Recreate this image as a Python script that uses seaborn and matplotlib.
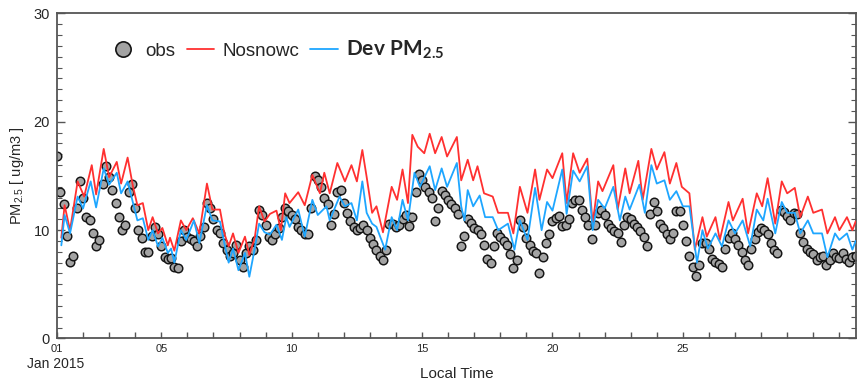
import numpy as np
import pandas as pd
import matplotlib
matplotlib.use("Agg")
import matplotlib.pyplot as plt
import matplotlib.dates as mdates
from matplotlib.ticker import MultipleLocator, FuncFormatter
from matplotlib.lines import Line2D
import seaborn as sns

# ---------------- data ----------------
start = pd.Timestamp("2015-01-01 00:00")

# observations, every 3 hours from Jan 1 00:00 local time
obs_values = [
    16.8, 13.5, 12.4, 9.5, 7.1, 7.6, 12.0, 14.5,
    13.0, 11.2, 10.9, 9.7, 8.5, 9.1, 14.3, 15.9,
    14.9, 13.7, 12.5, 11.2, 10.0, 10.5, 13.5, 14.3,
    12.0, 10.0, 9.3, 8.0, 8.0, 9.5, 10.3, 9.6,
    8.5, 7.5, 7.3, 7.4, 6.6, 6.5, 9.0, 10.0,
    9.4, 9.2, 9.0, 8.5, 9.5, 10.3, 12.5, 12.0,
    11.0, 10.0, 9.7, 8.8, 8.2, 7.6, 7.9, 8.6,
    7.2, 6.6, 7.9, 8.5, 8.2, 9.1, 11.9, 11.4,
    10.5, 9.4, 9.1, 9.6, 10.2, 11.2, 12.0, 11.8,
    11.4, 11.0, 10.3, 10.0, 9.6, 9.6, 12.0, 15.0,
    14.6, 14.0, 13.0, 12.4, 10.5, 11.5, 13.5, 13.7,
    12.5, 11.6, 10.8, 10.3, 10.0, 10.2, 10.5, 10.0,
    9.3, 8.7, 8.2, 7.6, 7.2, 8.2, 10.6, 10.6,
    10.3, 10.5, 11.0, 11.4, 10.4, 11.2, 13.5, 15.2,
    14.6, 14.0, 13.5, 13.0, 10.8, 12.0, 13.6, 13.2,
    12.8, 12.4, 12.0, 11.5, 8.5, 9.5, 11.0, 10.7,
    10.2, 10.0, 9.6, 8.6, 7.3, 7.0, 8.5, 9.7,
    9.4, 9.0, 8.6, 7.8, 6.5, 7.2, 10.9, 10.3,
    9.3, 8.6, 8.1, 7.9, 6.0, 7.5, 8.8, 9.6,
    10.8, 11.1, 11.3, 10.4, 10.5, 11.0, 12.5, 12.8,
    12.8, 11.9, 11.2, 10.5, 9.2, 10.5, 11.6, 11.9,
    11.4, 10.6, 10.2, 9.9, 9.7, 8.9, 10.5, 11.2,
    11.0, 10.6, 10.3, 9.9, 9.4, 8.5, 11.5, 12.6,
    11.8, 10.6, 10.2, 9.6, 9.2, 9.7, 11.8, 11.8,
    10.5, 9.0, 7.6, 6.6, 5.8, 6.8, 8.8, 8.8,
    8.3, 7.3, 7.1, 6.9, 6.6, 8.3, 9.3, 9.7,
    9.2, 8.6, 8.0, 7.2, 6.8, 8.3, 9.2, 9.8,
    10.2, 10.0, 9.6, 8.8, 8.2, 7.9, 11.9, 11.7,
    11.3, 10.9, 11.6, 11.5, 9.7, 8.9, 8.3, 8.0,
    7.8, 7.2, 7.5, 7.6, 6.8, 7.2, 7.9, 7.5,
    7.4, 7.9, 7.3, 7.1, 7.5, 7.6,
]
obs_hours = np.arange(len(obs_values)) * 3

# Nosnowc model run: hours since Jan 1 00:00 and values
red_hours = [4, 7, 12, 19, 25, 32, 36, 43, 48, 55,
             59, 65, 70, 74, 79, 84, 88, 93, 97, 102,
             104, 108, 114, 119, 125, 131, 138, 143, 150, 154,
             158, 162, 167, 173, 177, 182, 186, 191, 196, 202,
             206, 210, 214, 222, 228, 235, 242, 246, 251, 258,
             265, 271, 276, 281, 285, 290, 294, 300, 308, 313,
             318, 323, 327, 332, 338, 343, 348, 354, 359, 368,
             372, 378, 383, 387, 393, 401, 406, 415, 420, 426,
             433, 440, 444, 451, 456, 465, 469, 475, 481, 488,
             493, 498, 502, 512, 516, 523, 527, 535, 539, 547,
             552, 559, 564, 570, 575, 582, 587, 594, 598, 606,
             610, 618, 622, 631, 636, 644, 649, 654, 661, 667,
             672, 679, 684, 691, 696, 704, 709, 716, 720, 727,
             732, 735]
red_values = [9.3, 12.3, 10.0, 14.5, 13.1, 16.0, 13.3, 17.5, 14.9, 16.3,
              14.3, 16.7, 14.0, 12.3, 12.5, 10.0, 11.2, 9.7, 10.2, 8.6,
              9.3, 8.1, 10.9, 10.0, 11.1, 9.7, 14.3, 11.9, 11.9, 9.7,
              8.5, 9.7, 7.9, 9.4, 7.7, 9.3, 12.2, 10.8, 11.5, 11.8,
              10.0, 13.4, 12.5, 13.5, 12.3, 15.1, 13.4, 15.3, 13.4, 16.2,
              14.5, 16.0, 14.5, 17.4, 14.9, 11.6, 12.2, 9.8, 14.0, 12.8,
              15.6, 12.5, 18.8, 17.7, 17.1, 18.9, 17.1, 18.6, 16.8, 18.6,
              14.6, 16.5, 14.6, 15.9, 13.4, 13.1, 11.6, 11.6, 9.7, 14.0,
              11.6, 15.6, 12.8, 15.6, 14.8, 17.1, 12.5, 17.1, 15.3, 16.6,
              10.6, 14.5, 13.6, 16.0, 11.9, 15.7, 13.4, 16.4, 12.8, 17.5,
              15.6, 17.2, 14.3, 16.2, 14.0, 13.4, 8.2, 11.2, 9.4, 11.2,
              9.1, 12.6, 10.9, 12.9, 9.7, 13.4, 12.2, 14.8, 10.6, 14.5,
              13.4, 13.9, 11.2, 13.1, 11.6, 11.9, 9.7, 11.2, 10.0, 11.2,
              10.0, 10.8]

# Dev PM2.5 model run
blue_hours = [4, 7, 12, 19, 24, 31, 36, 43, 48, 55,
              59, 65, 70, 74, 79, 84, 88, 93, 97, 102,
              105, 108, 114, 119, 126, 131, 138, 143, 150, 154,
              158, 162, 167, 173, 177, 182, 186, 191, 196, 202,
              207, 211, 214, 222, 228, 235, 240, 248, 251, 260,
              265, 271, 276, 281, 285, 290, 294, 302, 308, 313,
              318, 323, 329, 334, 343, 348, 354, 359, 368, 372,
              375, 378, 383, 389, 394, 401, 406, 415, 421, 426,
              433, 440, 446, 451, 456, 465, 469, 475, 481, 488,
              493, 498, 504, 512, 518, 523, 527, 536, 541, 547,
              552, 559, 564, 570, 576, 582, 589, 594, 599, 606,
              612, 618, 624, 631, 638, 644, 650, 654, 661, 667,
              672, 679, 684, 691, 696, 704, 709, 716, 720, 727,
              732, 735]
blue_values = [8.6, 11.4, 9.7, 13.1, 12.0, 14.5, 12.1, 15.7, 14.2, 15.3,
               13.4, 14.5, 12.5, 10.9, 11.1, 9.1, 10.0, 8.5, 9.3, 7.9,
               8.3, 7.0, 10.0, 9.1, 10.9, 8.8, 12.3, 10.9, 10.8, 8.8,
               7.0, 8.3, 6.3, 7.9, 5.7, 8.3, 10.6, 9.8, 9.6, 10.5,
               9.1, 11.2, 10.3, 11.9, 9.4, 12.8, 11.4, 12.2, 10.9, 13.1,
               12.2, 12.5, 10.9, 14.5, 11.6, 10.6, 10.3, 8.2, 11.2, 10.0,
               12.8, 10.9, 15.3, 14.0, 15.9, 13.7, 15.7, 14.0, 16.2, 12.2,
               10.9, 13.7, 12.2, 13.2, 11.2, 11.2, 10.0, 10.6, 8.2, 10.9,
               9.1, 13.9, 10.0, 12.6, 11.8, 15.6, 11.5, 15.5, 14.5, 15.9,
               10.0, 12.8, 12.0, 14.0, 10.9, 13.1, 11.9, 14.2, 11.6, 16.0,
               14.3, 14.6, 12.8, 13.6, 12.2, 12.2, 7.0, 10.0, 8.3, 9.7,
               8.5, 10.9, 9.7, 10.9, 8.5, 11.9, 10.9, 12.9, 9.7, 12.6,
               11.6, 11.6, 9.7, 10.9, 9.7, 9.7, 7.5, 9.7, 9.1, 9.7,
               8.2, 9.0]

labeled_days = [1, 5, 10, 15, 20, 25]
series_labels = ["obs", "Nosnowc", r"$\mathbf{Dev\ PM_{2.5}}$"]
y_ticks = [0, 10, 20, 30]

# ---------------- tables ----------------
obs_df = pd.DataFrame({"time": start + pd.to_timedelta(obs_hours, unit="h"),
                       "pm": obs_values})
red_df = pd.DataFrame({"time": start + pd.to_timedelta(red_hours, unit="h"),
                       "pm": red_values})
blue_df = pd.DataFrame({"time": start + pd.to_timedelta(blue_hours, unit="h"),
                        "pm": blue_values})

# ---------------- style ----------------
sns.set_style("ticks")
plt.rcParams["font.family"] = ["Liberation Sans", "DejaVu Sans"]
plt.rcParams["mathtext.fontset"] = "custom"
plt.rcParams["mathtext.rm"] = "Liberation Sans"
plt.rcParams["mathtext.it"] = "Liberation Sans:italic"
plt.rcParams["mathtext.bf"] = "Lato:bold"

RED = "#ff3030"
BLUE = "#1ea6ff"
SPINE = "#555555"
OBS_FACE = "#a3a3a3"
OBS_EDGE = "#141414"

fig = plt.figure(figsize=(8.57, 3.79), dpi=100)
ax = fig.add_axes([0.0665, 0.1069, 0.9323, 0.8575])

sns.scatterplot(data=obs_df, x="time", y="pm", ax=ax, s=38, marker="o",
                color=OBS_FACE, edgecolor=OBS_EDGE, linewidth=1.05,
                zorder=2, legend=False)
sns.lineplot(data=red_df, x="time", y="pm", ax=ax, color=RED, lw=1.3,
             estimator=None, zorder=3, legend=False)
sns.lineplot(data=blue_df, x="time", y="pm", ax=ax, color=BLUE, lw=1.3,
             estimator=None, zorder=4, legend=False)

# ---------------- axes ----------------
ax.set_xlim(start, start + pd.Timedelta(hours=735.3))
ax.set_ylim(0, 30)
ax.yaxis.set_major_locator(MultipleLocator(10))
ax.yaxis.set_minor_locator(MultipleLocator(1))
ax.set_yticks(y_ticks)

ax.xaxis.set_major_locator(mdates.DayLocator())


def day_label(x, pos):
    d = mdates.num2date(x).day
    return f"{d:02d}" if d in labeled_days else ""


ax.xaxis.set_major_formatter(FuncFormatter(day_label))

ax.tick_params(axis="y", which="major", direction="in", length=6, width=1.0,
               color=SPINE, labelsize=10.5, pad=5, right=True)
ax.tick_params(axis="y", which="minor", direction="in", length=3.8, width=0.8,
               color=SPINE, right=True)
ax.tick_params(axis="x", which="major", direction="in", length=4, width=1.0,
               color=SPINE, labelsize=8, pad=4, top=False)

for side in ["left", "right", "top", "bottom"]:
    ax.spines[side].set_visible(True)
    ax.spines[side].set_color(SPINE)
    ax.spines[side].set_linewidth(1.3)

ax.set_xlabel("Local Time", fontsize=11, labelpad=9)
ax.set_ylabel(r"PM$_{2.5}$ [ ug/m3 ]", fontsize=10.5)
ax.yaxis.set_label_coords(-0.039, 0.5)

ax.annotate("Jan 2015", xy=(mdates.date2num(start), 0),
            xycoords=("data", "axes fraction"), xytext=(-1, -13),
            textcoords="offset points", ha="center", va="top", fontsize=10)

# ---------------- legend ----------------
handles = [
    Line2D([], [], ls="none", marker="o", markersize=11,
           markerfacecolor=OBS_FACE, markeredgecolor=OBS_EDGE, mew=1.2),
    Line2D([], [], color=RED, lw=1.3),
    Line2D([], [], color=BLUE, lw=1.3),
]
leg = ax.legend(handles, series_labels, ncol=3, loc="center left",
                bbox_to_anchor=(0.066, 0.888), frameon=False, fontsize=13.5,
                handlelength=1.45, handletextpad=0.45, columnspacing=0.6,
                borderpad=0, borderaxespad=0)
leg.get_texts()[2].set_fontsize(15)

fig.savefig("out.png", dpi=100, facecolor="white")
